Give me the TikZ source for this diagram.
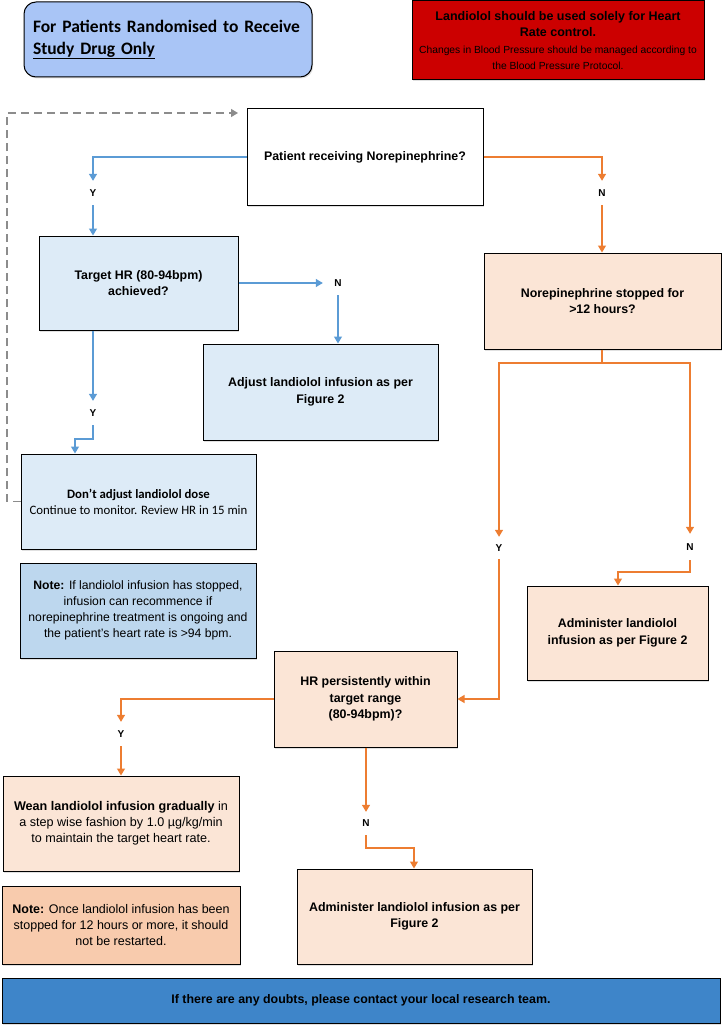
\documentclass[tikz,border=0pt]{standalone}
\usepackage{fontspec}
\setmainfont{Liberation Sans}
\newfontfamily\calfont{Carlito}
\usetikzlibrary{arrows.meta,shadows}
\definecolor{titleblue}{HTML}{A9C5F6}
\definecolor{alertred}{HTML}{CC0000}
\definecolor{lblue}{HTML}{DDEBF7}
\definecolor{nblue}{HTML}{BDD7EE}
\definecolor{peach}{HTML}{FBE5D6}
\definecolor{npeach}{HTML}{F8CBAD}
\definecolor{barblue}{HTML}{3E85C9}
\definecolor{lineblue}{HTML}{5B9BD5}
\definecolor{lineorange}{HTML}{ED7D31}
\definecolor{dashgray}{HTML}{8C8C8C}
\newcommand{\smalltxt}{\fontsize{10.3}{14.5}\selectfont\mdseries}
\tikzset{
  box/.style={draw=black, line width=1pt, inner sep=0pt, align=center,
    font=\fontsize{12.4}{16.5}\selectfont\bfseries,
    drop shadow={shadow xshift=1.2pt, shadow yshift=-1.5pt, fill=black, opacity=0.12}},
  reg/.style={font=\fontsize{#1}{16.2}\selectfont},
  lbl/.style={font=\fontsize{10}{12}\selectfont\bfseries, inner sep=0pt, minimum width=24pt, minimum height=24pt},
  bl/.style={draw=lineblue, line width=1.3pt},
  ol/.style={draw=lineorange, line width=1.3pt},
  dl/.style={draw=dashgray, line width=1.2pt, dash pattern=on 8pt off 5pt},
  arr/.style={-{Triangle[width=8pt,length=7pt]}},
  garr/.style={-{Triangle[width=8pt,length=7pt,fill=dashgray]}},
}
\begin{document}
\begin{tikzpicture}[x=1pt,y=-1pt]
\useasboundingbox (0,0) rectangle (724,1030);

% header boxes
\node[box, fill=titleblue, rounded corners=12pt, minimum width=288pt, minimum height=75pt,
  text width=270pt, align=left, font=\calfont\bfseries\fontsize{17.5}{22}\selectfont] (title) at (168,39.5)
  {For Patients Randomised to Receive\\\underline{Study Drug Only}};
\node[box, fill=alertred, minimum width=292pt, minimum height=79pt, font=\fontsize{12.5}{16.5}\selectfont\bfseries] (alert) at (558,40.5)
  {Landiolol should be used solely for Heart\\Rate control.\\
   \smalltxt Changes in Blood Pressure should be managed according to\\\smalltxt the Blood Pressure Protocol.};

% left (blue) branch
\node[box, fill=white, minimum width=236pt, minimum height=96pt] (patient) at (365,157) {Patient receiving Norepinephrine?};
\node[box, fill=lblue, minimum width=199pt, minimum height=94pt] (target) at (138.5,283) {Target HR (80-94bpm)\\achieved?};
\node[box, fill=lblue, minimum width=235pt, minimum height=96pt] (adjust) at (320.5,392) {Adjust landiolol infusion as per\\Figure 2};
\node[box, fill=lblue, minimum width=235pt, minimum height=95pt, font=\calfont\fontsize{12.8}{16}\selectfont] (dont) at (138.5,501.5)
  {\textbf{Don’t adjust landiolol dose}\\Continue to monitor. Review HR in 15 min};
\node[box, fill=nblue, minimum width=236pt, minimum height=95pt, reg=12.2] (note1) at (138,610.5)
  {\textbf{Note:} If landiolol infusion has stopped,\\infusion can recommence if\\norepinephrine treatment is ongoing and\\the patient's heart rate is >94 bpm.};

% right (orange) branch
\node[box, fill=peach, minimum width=237pt, minimum height=96pt] (norep) at (602.5,301) {Norepinephrine stopped for\\>12 hours?};
\node[box, fill=peach, minimum width=181pt, minimum height=94pt] (admR) at (617.5,633) {Administer landiolol\\infusion as per Figure 2};
\node[box, fill=peach, minimum width=183pt, minimum height=96pt] (hr) at (365.5,699) {HR persistently within\\target range\\(80-94bpm)?};
\node[box, fill=peach, minimum width=236pt, minimum height=95pt, reg=12.6] (wean) at (121,823.5)
  {\textbf{Wean landiolol infusion gradually} in\\a step wise fashion by 1.0 µg/kg/min\\to maintain the target heart rate.};
\node[box, fill=npeach, minimum width=238pt, minimum height=78pt, reg=12.5] (note2) at (121,925)
  {\textbf{Note:} Once landiolol infusion has been\\stopped for 12 hours or more, it should\\not be restarted.};
\node[box, fill=peach, minimum width=235pt, minimum height=95pt] (adminB) at (414.5,916.5) {Administer landiolol infusion as per\\Figure 2};
\node[box, fill=barblue, minimum width=718pt, minimum height=45pt] (bar) at (361,1000.5) {If there are any doubts, please contact your local research team.};

% Y/N labels
\node[lbl] (y1) at (93,193) {Y};
\node[lbl, minimum width=30pt] (n1) at (338,283) {N};
\node[lbl] (y2) at (93,413) {Y};
\node[lbl] (n2) at (602,193) {N};
\node[lbl, minimum height=22pt] (y3) at (499,548) {Y};
\node[lbl, minimum height=26pt] (n3) at (690,547) {N};
\node[lbl] (y4) at (121,734) {Y};
\node[lbl, minimum height=23pt] (n4) at (366,823.5) {N};

% coordinates for bends / free ends
\coordinate (c2) at (75,439);
\coordinate (d1) at (7,113);
\coordinate (d2) at (238,113);
\coordinate (s1) at (602,363);
\coordinate (c3) at (618,572);
\coordinate (c4) at (414,848);

% blue connectors
\draw[bl,arr] (patient.west) -| (y1.north);
\draw[bl,arr] (y1.south) -- (target.north -| y1);
\draw[bl,arr] (target.east) -- (n1.west);
\draw[bl,arr] (n1.south) -- (adjust.north -| n1);
\draw[bl,arr] (target.south -| y2) -- (y2.north);
\draw[bl,arr] (y2.south) |- (c2) -- (dont.north -| c2);

% dashed loop
\draw[dl,garr] (dont.west) -| (d1) -- (d2);

% orange connectors
\draw[ol,arr] (patient.east) -| (n2.north);
\draw[ol,arr] (n2.south) -- (norep.north -| n2);
\draw[ol] (norep.south -| s1) -- (s1);
\draw[ol,arr] (s1) -| (y3.north);
\draw[ol,arr] (s1) -| (n3.north);
\draw[ol,arr] (y3.south) |- (hr.east);
\draw[ol,arr] (n3.south) |- (c3) -- (admR.north -| c3);
\draw[ol,arr] (hr.west) -| (y4.north);
\draw[ol,arr] (y4.south) -- (wean.north -| y4);
\draw[ol,arr] (hr.south -| n4) -- (n4.north);
\draw[ol,arr] (n4.south) |- (c4) -- (adminB.north -| c4);
\end{tikzpicture}
\end{document}
